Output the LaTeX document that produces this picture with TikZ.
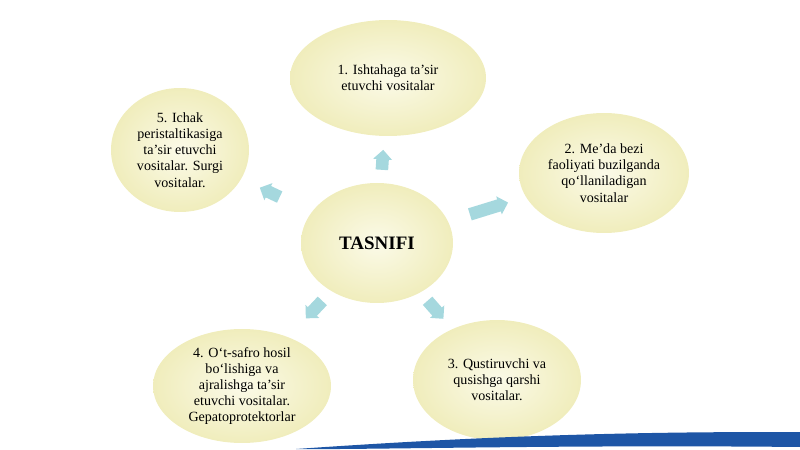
\documentclass[tikz,border=0pt]{standalone}
\usepackage{fontspec}
\setmainfont{Liberation Serif}
\usetikzlibrary{positioning, shapes.geometric, shapes.arrows}
\definecolor{palecream}{RGB}{251,250,232}
\definecolor{creamedge}{RGB}{240,237,188}
\definecolor{aqua}{RGB}{165,216,222}
\definecolor{swooshblue}{RGB}{30,86,166}

\begin{document}
\begin{tikzpicture}[
    bubble/.style={
        ellipse,
        inner color=palecream,
        outer color=creamedge,
        align=center,
        inner sep=0pt,
        text=black,
        font=\fontsize{10}{11.5}\selectfont
    },
    hub/.style={
        bubble,
        font=\fontsize{13.5}{16}\selectfont\bfseries
    },
    flow/.style={
        single arrow,
        fill=aqua,
        draw=none,
        minimum height=6mm,
        inner xsep=0pt,
        inner ysep=1.5mm,
        single arrow head extend=0.8mm,
        sloped,
        allow upside down
    }
]
\useasboundingbox (0,0) rectangle (20,11.225);

\node[hub, minimum width=3.8cm, minimum height=3cm] (tasnifi) at (9.425,5.15) {TASNIFI};
\node[bubble, minimum width=4.9cm, minimum height=2.9cm] (ishtaha) at (9.7,9.275)
    {1. Ishtahaga ta’sir\\etuvchi vositalar};
\node[bubble, minimum width=4.25cm, minimum height=3cm] (medabezi) at (15.1,6.9)
    {2. Me’da bezi\\faoliyati buzilganda\\qo‘llaniladigan\\vositalar};
\node[bubble, minimum width=4.2cm, minimum height=3cm] (qusish) at (12.425,1.725)
    {3. Qustiruvchi va\\qusishga qarshi\\vositalar.};
\node[bubble, minimum width=4.45cm, minimum height=2.85cm] (otsafro) at (6.05,1.575)
    {4. O‘t-safro hosil\\bo‘lishiga va\\ajralishga ta’sir\\etuvchi vositalar.\\Gepatoprotektorlar};
\node[bubble, minimum width=3.45cm, minimum height=3.1cm] (ichak) at (4.5,7.475)
    {5. Ichak\\peristaltikasiga\\ta’sir etuvchi\\vositalar. Surgi\\vositalar.};

\path (tasnifi.center) -- (ishtaha.center) node[flow, pos=0.485, minimum height=5mm] {};
\path (tasnifi.center) -- (medabezi.center) node[flow, pos=0.48, minimum height=1cm] {};
\path (tasnifi.center) -- (qusish.center) node[flow, pos=0.47] {};
\path (tasnifi.center) -- (otsafro.center) node[flow, pos=0.45] {};
\path (tasnifi.center) -- (ichak.center) node[flow, pos=0.53, minimum height=5.5mm] {};

% blue band along the bottom edge
\fill[swooshblue] (7.4,0) .. controls (11,0.25) and (15,0.45) .. (20,0.42)
    -- (20,0.05) .. controls (15,0.1) and (11,0.02) .. (8.5,0) -- cycle;

\end{tikzpicture}
\end{document}
